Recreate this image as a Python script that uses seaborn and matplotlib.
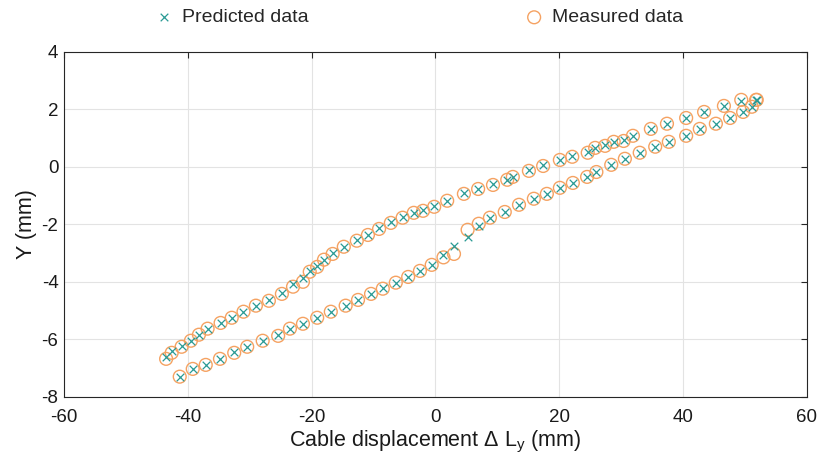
import numpy as np
import pandas as pd
import matplotlib
matplotlib.use("Agg")
import matplotlib.pyplot as plt
import seaborn as sns

# ---- data ----
upper_x = [-43.5, -42.6, -41.0, -39.5, -38.2, -36.8, -34.7, -32.9, -31.0, -29.0,
           -26.9, -24.8, -23.0, -21.4, -20.3, -19.1, -18.0, -16.6, -14.8, -12.7,
           -10.9, -9.1, -7.2, -5.3, -3.5, -2.0, -0.2, 1.9, 4.6, 6.9,
           9.3, 11.6, 12.5, 15.1, 17.4, 20.1, 22.1, 24.6, 25.8, 27.4,
           28.8, 30.4, 31.9, 34.8, 37.4, 40.5, 43.4, 46.6, 49.4, 51.8]
upper_meas = [-6.68, -6.47, -6.26, -6.05, -5.84, -5.63, -5.43, -5.25, -5.04, -4.83,
              -4.66, -4.42, -4.17, -4.00, -3.65, -3.48, -3.23, -3.03, -2.78, -2.57,
              -2.37, -2.16, -1.95, -1.77, -1.60, -1.53, -1.39, -1.18, -0.94, -0.77,
              -0.63, -0.45, -0.35, -0.14, 0.03, 0.24, 0.35, 0.49, 0.66, 0.73,
              0.87, 0.90, 1.08, 1.32, 1.50, 1.70, 1.91, 2.12, 2.33, 2.33]
upper_pred = [-6.62, -6.40, -6.22, -6.05, -5.84, -5.63, -5.43, -5.25, -5.04, -4.83,
              -4.64, -4.40, -4.08, -3.85, -3.62, -3.44, -3.23, -3.00, -2.78, -2.55,
              -2.37, -2.14, -1.93, -1.75, -1.62, -1.50, -1.36, -1.18, -0.92, -0.77,
              -0.60, -0.45, -0.35, -0.12, 0.05, 0.24, 0.37, 0.51, 0.66, 0.75,
              0.87, 0.94, 1.08, 1.32, 1.50, 1.70, 1.91, 2.12, 2.30, 2.33]

lower_x = [-41.3, -39.2, -37.1, -34.8, -32.5, -30.4, -27.9, -25.4, -23.5, -21.4,
           -19.1, -16.9, -14.5, -12.5, -10.4, -8.5, -6.4, -4.4, -2.5, -0.6,
           1.3, 3.0, 5.2, 7.0, 8.8, 11.2, 13.5, 15.9, 18.0, 20.1,
           22.2, 24.5, 26.0, 28.4, 30.6, 33.0, 35.5, 37.7, 40.5, 42.7,
           45.3, 47.6, 49.7, 51.1, 51.9]
lower_meas = [-7.30, -7.03, -6.89, -6.68, -6.47, -6.26, -6.05, -5.88, -5.63, -5.46,
              -5.25, -5.04, -4.83, -4.63, -4.42, -4.24, -4.03, -3.83, -3.62, -3.41,
              -3.15, -3.03, -2.19, -1.98, -1.77, -1.57, -1.32, -1.11, -0.94, -0.73,
              -0.56, -0.35, -0.18, 0.07, 0.28, 0.49, 0.70, 0.87, 1.08, 1.32,
              1.50, 1.70, 1.91, 2.09, 2.33]
lower_pred = [-7.30, -7.03, -6.89, -6.68, -6.45, -6.26, -6.05, -5.86, -5.63, -5.46,
              -5.25, -5.04, -4.83, -4.63, -4.42, -4.22, -4.03, -3.83, -3.62, -3.41,
              -3.08, -2.75, -2.43, -2.05, -1.77, -1.57, -1.32, -1.11, -0.94, -0.73,
              -0.56, -0.35, -0.18, 0.07, 0.28, 0.49, 0.70, 0.87, 1.08, 1.32,
              1.50, 1.70, 1.91, 2.09, 2.33]

x_ticks = [-60, -40, -20, 0, 20, 40, 60]
y_ticks = [-8, -6, -4, -2, 0, 2, 4]

pred_color = "#2a9a94"
meas_color = "#f5a262"

sns.set_style("white")
plt.rcParams["font.family"] = ["Liberation Sans", "DejaVu Sans"]
plt.rcParams["mathtext.fontset"] = "custom"
plt.rcParams["mathtext.rm"] = "Liberation Sans"
plt.rcParams["axes.unicode_minus"] = False

x_all = upper_x + lower_x
df = pd.DataFrame({
    "x": x_all + x_all,
    "y": upper_pred + lower_pred + upper_meas + lower_meas,
    "kind": ["Predicted data"] * len(x_all) + ["Measured data"] * len(x_all),
})

fig = plt.figure(figsize=(8.2, 4.63), dpi=100)
ax = fig.add_axes([0.078, 0.143, 0.906, 0.745])

pred = df[df["kind"] == "Predicted data"]
meas = df[df["kind"] == "Measured data"]
sns.scatterplot(data=meas, x="x", y="y", ax=ax, marker="o", s=85,
                facecolors="none", edgecolor=meas_color, linewidth=1.0,
                label="Measured data", zorder=3)
sns.scatterplot(data=pred, x="x", y="y", ax=ax, marker="x", s=30,
                color=pred_color, linewidth=0.9, label="Predicted data", zorder=4)

ax.set_xlim(-60, 60)
ax.set_ylim(-8, 4)
ax.set_xticks(x_ticks)
ax.set_yticks(y_ticks)
ax.grid(True, color="#e3e3e3", linewidth=0.8)
ax.set_axisbelow(True)
for sp in ax.spines.values():
    sp.set_color("#262626")
    sp.set_linewidth(0.8)
ax.tick_params(direction="in", length=4, width=0.8, color="#262626",
               labelsize=13.5, labelcolor="#1a1a1a", top=True, right=True)
ax.tick_params(axis="x", pad=9)
ax.tick_params(axis="y", pad=4)
ax.set_xlabel("Cable displacement \u0394 L$_\\mathregular{y}$ (mm)", fontsize=15.5,
              color="#1a1a1a", labelpad=2)
ax.set_ylabel("Y (mm)", fontsize=15.5, color="#1a1a1a", labelpad=3)

ax.get_legend().remove()
h, l = ax.get_legend_handles_labels()
order = [l.index("Predicted data"), l.index("Measured data")]
leg = fig.legend([h[i] for i in order], [l[i] for i in order], ncol=2,
                 loc="center left", bbox_to_anchor=(0.165, 0.962), frameon=False,
                 fontsize=14, columnspacing=11.0, handletextpad=0.3,
                 handlelength=1.2)

fig.savefig("out.png", dpi=100)
